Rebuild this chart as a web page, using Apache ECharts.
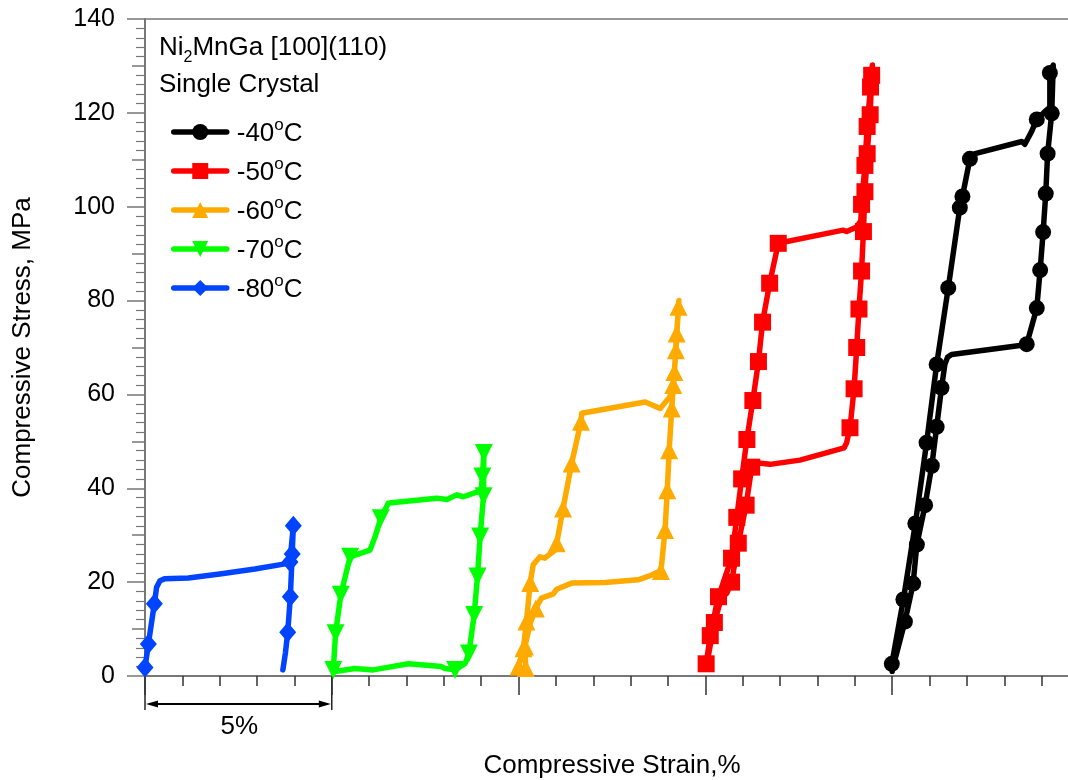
<!DOCTYPE html>
<html>
<head>
<meta charset="utf-8">
<script src="https://cdn.jsdelivr.net/npm/echarts@6/dist/echarts.min.js"></script>
<style>
  html, body { margin: 0; padding: 0; background: #fff; }
  #chart { width: 1068px; height: 780px; }
</style>
</head>
<body>
<div id="chart"></div>
<script>
// Compressive stress-strain loops of a Ni2MnGa single crystal at five temperatures.
// Each loop is recorded from its own zero strain; loops are shifted along the
// strain axis by 5 % steps so they sit side by side.

const seriesNames   = ['-40°C', '-50°C', '-60°C', '-70°C', '-80°C'];
const strainOffsets = [20, 15, 10, 5, 0];              // % shift of each loop
const yTicks = [0, 20, 40, 60, 80, 100, 120, 140];     // stress tick labels, MPa

// [strain %, stress MPa, marker shown (1) or not (0)]
const curve40 = [
  [0.00, 1.0, 0], [-0.01, 2.6, 1], [0.30, 16.3, 1], [0.62, 32.5, 1], [0.92, 49.7, 1],
  [1.19, 66.4, 1], [1.50, 82.7, 1], [1.81, 99.8, 1], [1.88, 102.2, 1], [2.08, 110.2, 1],
  [2.22, 111.3, 0], [3.47, 113.9, 0], [3.55, 113.3, 0], [3.73, 116.0, 0], [3.87, 118.6, 1],
  [4.09, 120.3, 0], [4.22, 121.2, 0], [4.22, 128.5, 1], [4.31, 130.2, 0],
  [4.27, 119.9, 1], [4.16, 111.3, 1], [4.11, 102.8, 1], [4.04, 94.6, 1], [3.96, 86.5, 1],
  [3.87, 78.4, 1], [3.60, 70.7, 1], [3.47, 70.5, 0], [1.59, 68.5, 0], [1.48, 67.9, 0],
  [1.41, 66.4, 0], [1.32, 61.4, 1], [1.19, 53.1, 1], [1.06, 44.8, 1], [0.88, 36.4, 1],
  [0.66, 28.0, 1], [0.56, 19.7, 1], [0.34, 11.6, 1], [0.00, 1.2, 0]
];

const curve50 = [
  [0.02, 1.5, 0], [0.02, 2.6, 1], [0.13, 8.6, 1], [0.28, 14.5, 0], [0.35, 16.9, 1],
  [0.70, 25.1, 1], [0.84, 33.8, 1], [0.97, 42.0, 1], [1.11, 50.4, 1], [1.27, 58.7, 1],
  [1.42, 67.0, 1], [1.53, 75.4, 1], [1.72, 83.7, 1], [1.95, 92.2, 1],
  [3.69, 95.0, 0], [3.78, 94.7, 0], [4.05, 95.7, 0], [4.16, 97.0, 0],
  [4.18, 100.5, 1], [4.27, 108.8, 1], [4.33, 117.1, 1], [4.42, 125.5, 1], [4.47, 130.2, 0],
  [4.45, 128.0, 1], [4.41, 119.6, 1], [4.33, 111.3, 1], [4.27, 103.2, 1], [4.23, 94.7, 1],
  [4.18, 86.3, 1], [4.11, 78.2, 1], [4.05, 70.0, 1], [3.98, 61.2, 1], [3.87, 52.9, 1],
  [3.78, 49.7, 0], [3.71, 48.6, 0], [3.16, 47.4, 0], [2.53, 46.0, 0], [1.73, 45.1, 0],
  [1.42, 45.4, 0], [1.24, 44.5, 1], [1.09, 36.4, 1], [0.88, 28.3, 1], [0.70, 20.0, 1],
  [0.57, 17.6, 0], [0.43, 16.7, 0], [0.24, 11.4, 1], [0.02, 1.7, 0]
];

const curve60 = [
  [0.00, 2.0, 1], [0.13, 5.9, 1], [0.21, 11.6, 1], [0.31, 19.8, 1], [0.39, 23.7, 0],
  [0.57, 25.4, 0], [0.70, 25.1, 0], [0.97, 26.8, 0], [1.02, 28.3, 1], [1.19, 35.7, 1],
  [1.42, 45.3, 1], [1.67, 54.2, 1], [1.69, 56.0, 0], [3.39, 58.4, 0], [3.79, 57.0, 0],
  [4.05, 59.5, 0], [4.14, 62.0, 1], [4.17, 64.8, 1], [4.23, 73.0, 1], [4.28, 78.7, 1],
  [4.29, 80.0, 0],
  [4.21, 69.4, 1], [4.10, 57.0, 1], [4.03, 48.1, 1], [3.98, 39.6, 1], [3.92, 31.1, 1],
  [3.81, 22.4, 1], [3.56, 21.5, 0], [3.20, 20.5, 0], [2.31, 19.9, 0], [1.42, 19.8, 0],
  [1.02, 18.5, 0], [0.93, 17.5, 0], [0.61, 16.6, 0], [0.46, 14.4, 1], [0.31, 11.2, 0],
  [0.17, 6.3, 1], [0.19, 1.7, 1]
];

const curve70 = [
  [0.04, 1.3, 1], [0.10, 9.1, 1], [0.24, 17.3, 1], [0.49, 25.4, 1], [1.02, 26.8, 0],
  [1.16, 29.7, 0], [1.31, 33.6, 1], [1.51, 36.8, 0], [1.60, 36.9, 0], [2.81, 37.9, 0],
  [3.08, 37.6, 0], [3.34, 38.6, 0], [3.52, 38.2, 0], [3.92, 39.3, 0], [4.00, 39.8, 0],
  [4.03, 42.5, 1], [4.07, 47.5, 1],
  [4.06, 38.3, 1], [3.97, 29.7, 1], [3.90, 21.2, 1], [3.81, 13.0, 1], [3.67, 4.8, 1],
  [3.57, 2.7, 0], [3.30, 1.3, 1], [3.03, 1.6, 0], [2.94, 2.0, 0], [2.05, 2.6, 0],
  [1.11, 1.3, 0], [0.62, 1.6, 0], [0.22, 1.1, 0], [0.04, 0.9, 0]
];

const curve80 = [
  [0.00, 1.8, 1], [0.09, 6.8, 1], [0.25, 15.4, 1], [0.31, 18.9, 0], [0.40, 20.3, 0],
  [0.52, 20.7, 0], [1.16, 20.9, 0], [2.05, 21.8, 0], [2.94, 22.8, 0], [3.75, 23.9, 0],
  [3.88, 24.3, 1], [3.97, 32.0, 1],
  [3.94, 26.0, 1], [3.89, 16.9, 1], [3.82, 9.3, 1], [3.76, 5.0, 0], [3.69, 1.3, 0]
];

const curves = [curve40, curve50, curve60, curve70, curve80];

const lineColors  = ['#000000', '#ff0000', '#ffaa00', '#00ff00', '#0044ff'];
const markerShape = ['circle', 'rect', 'triangle', 'triangle', 'diamond'];
const markerTurn  = [0, 0, 0, 180, 0];
const markerSize  = [16, 17, 18, 18, [17, 20]];

const FONT = "'Liberation Sans', Arial, Helvetica, sans-serif";

const series = curves.map((curve, i) => ({
  type: 'line',
  name: seriesNames[i],
  clip: false,
  symbol: markerShape[i],
  symbolRotate: markerTurn[i],
  symbolSize: markerSize[i],
  showSymbol: true,
  data: curve.map(([strain, stress, marked]) => {
    const item = { value: [strain + strainOffsets[i], stress] };
    if (!marked) item.symbol = 'none';
    return item;
  }),
  lineStyle: { color: lineColors[i], width: 5.5, join: 'round', cap: 'round' },
  itemStyle: { color: lineColors[i], borderWidth: 0 },
  emphasis: { disabled: true },
  z: 10 - i
}));

const chart = echarts.init(document.getElementById('chart'), null, { renderer: 'canvas' });

const axisGrey = '#777777';
const tickDark = '#333333';

chart.setOption({
  animation: false,
  backgroundColor: '#ffffff',
  textStyle: { fontFamily: FONT },
  grid: { left: 145, right: -11, top: 19, bottom: 104, containLabel: false, outerBoundsMode: 'none' },
  title: {
    left: 159, top: 29, padding: 0,
    text: 'Ni{sub|2}MnGa [100](110)\nSingle Crystal',
    textStyle: {
      fontFamily: FONT, fontSize: 26, fontWeight: 'normal', color: '#000', lineHeight: 37,
      rich: { sub: { fontFamily: FONT, fontSize: 16, lineHeight: 16, verticalAlign: 'bottom', color: '#000' } }
    }
  },
  legend: {
    orient: 'vertical',
    left: 171, top: 117, padding: 0,
    itemGap: 0, itemWidth: 53, itemHeight: 20,
    selectedMode: false,
    data: seriesNames,
    lineStyle: { width: 5.5 },
    formatter: name => '{n|' + name.replace('°C', '') + '}{s|o}{b|C}',
    textStyle: {
      fontFamily: FONT, fontSize: 26, color: '#000',
      rich: {
        n: { fontFamily: FONT, fontSize: 26, lineHeight: 30, verticalAlign: 'bottom', padding: [0, 0, 0, 5], color: '#000' },
        b: { fontFamily: FONT, fontSize: 26, lineHeight: 30, verticalAlign: 'bottom', color: '#000' },
        s: { fontFamily: FONT, fontSize: 17, lineHeight: 17, verticalAlign: 'top', padding: [0, 0, 22, 0], color: '#000' }
      }
    }
  },
  xAxis: [
    {
      type: 'value', min: 0, max: 25, interval: 5, position: 'bottom',
      name: 'Compressive Strain,%', nameLocation: 'middle', nameGap: 77,
      nameTextStyle: { fontFamily: FONT, fontSize: 26, color: '#000', lineHeight: 26 },
      axisLine: { show: true, onZero: false, lineStyle: { color: axisGrey, width: 2 } },
      axisTick: { show: true, inside: false, length: 19, lineStyle: { color: tickDark, width: 1.5 } },
      minorTick: { show: true, splitNumber: 5, length: 10, lineStyle: { color: tickDark, width: 1.5 } },
      axisLabel: { show: false },
      splitLine: { show: false }, minorSplitLine: { show: false }
    },
    {
      type: 'value', min: 0, max: 25, position: 'top',
      axisLine: { show: true, onZero: false, lineStyle: { color: axisGrey, width: 1.5 } },
      axisTick: { show: false }, axisLabel: { show: false }, splitLine: { show: false }
    }
  ],
  yAxis: [
    {
      type: 'value', min: 0, max: 140, interval: 20, position: 'left',
      name: 'Compressive Stress, MPa', nameLocation: 'middle', nameGap: 109,
      nameTextStyle: { fontFamily: FONT, fontSize: 26, color: '#000', lineHeight: 26 },
      axisLine: { show: true, onZero: false, lineStyle: { color: axisGrey, width: 2 } },
      axisTick: { show: true, inside: false, length: 18, lineStyle: { color: axisGrey, width: 1.5 } },
      axisLabel: {
        show: true, margin: 30, fontFamily: FONT, fontSize: 25, color: '#000',
        formatter: v => (yTicks.includes(v) ? String(v) : '')
      },
      splitLine: { show: false }
    },
    {
      type: 'value', min: 0, max: 140, interval: 10, position: 'left',
      axisLine: { show: false },
      axisTick: { show: true, inside: false, length: 13, lineStyle: { color: axisGrey, width: 1.5 } },
      minorTick: { show: true, splitNumber: 5, length: 9, lineStyle: { color: axisGrey, width: 1.2 } },
      axisLabel: { show: false },
      splitLine: { show: false }, minorSplitLine: { show: false }
    }
  ],
  series: series
});

// 5 % scale bar under the strain axis, placed from the axis scale itself
const p0 = chart.convertToPixel({ xAxisIndex: 0, yAxisIndex: 0 }, [0, 0]);
const p5 = chart.convertToPixel({ xAxisIndex: 0, yAxisIndex: 0 }, [5, 0]);
const yb = p0[1];
const ya = yb + 28;
chart.setOption({
  graphic: [
    { type: 'line', shape: { x1: p0[0], y1: yb, x2: p0[0], y2: yb + 34 }, style: { stroke: '#000', lineWidth: 1.3 } },
    { type: 'line', shape: { x1: p5[0], y1: yb, x2: p5[0], y2: yb + 34 }, style: { stroke: '#000', lineWidth: 1.3 } },
    { type: 'line', shape: { x1: p0[0] + 4, y1: ya, x2: p5[0] - 4, y2: ya }, style: { stroke: '#000', lineWidth: 2 } },
    { type: 'polygon', shape: { points: [[p0[0] + 1, ya], [p0[0] + 13, ya - 3.5], [p0[0] + 13, ya + 3.5]] }, style: { fill: '#000' } },
    { type: 'polygon', shape: { points: [[p5[0] - 1, ya], [p5[0] - 13, ya - 3.5], [p5[0] - 13, ya + 3.5]] }, style: { fill: '#000' } },
    {
      type: 'text', x: (p0[0] + p5[0]) / 2 + 1, y: yb + 51,
      style: { text: '5%', fontFamily: FONT, fontSize: 26, fill: '#000', align: 'center', verticalAlign: 'middle' }
    }
  ]
});
</script>
</body>
</html>
